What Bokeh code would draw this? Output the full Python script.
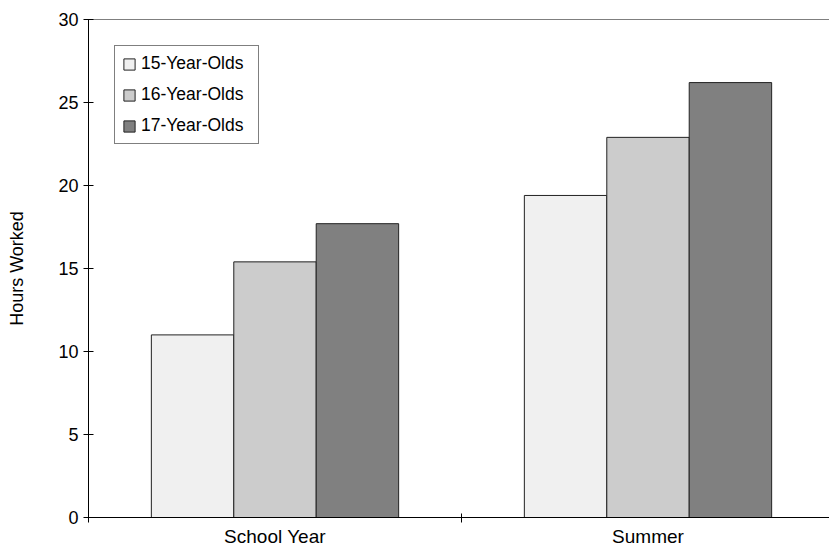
from bokeh.plotting import figure
from bokeh.models import FixedTicker, Span, Legend, LegendItem, ColumnDataSource
from bokeh.embed import file_html
from bokeh.resources import INLINE

categories = ["School Year", "Summer"]
series = ["15-Year-Olds", "16-Year-Olds", "17-Year-Olds"]
hours_15 = [11.0, 19.4]
hours_16 = [15.4, 22.9]
hours_17 = [17.7, 26.2]
colors = ["#f0f0f0", "#cccccc", "#808080"]
y_ticks = [0, 5, 10, 15, 20, 25, 30]
y_title = "Hours Worked"

FONT = "Liberation Sans"

p = figure(width=829, height=549, output_backend="svg", toolbar_location=None,
           x_range=(0, 741 / 373), y_range=(0, 30),
           min_border_left=88, min_border_right=0, min_border_top=19, min_border_bottom=30)
p.outline_line_color = None
p.grid.visible = False
p.background_fill_color = "white"
p.border_fill_color = "white"

bar_w = 0.221
offsets = [-bar_w, 0.0, bar_w]
centers = [i + 0.5 for i in range(len(categories))]
renderers = []
for vals, off, col in zip([hours_15, hours_16, hours_17], offsets, colors):
    src = ColumnDataSource(dict(x=[c + off for c in centers], top=vals))
    r = p.vbar(x="x", top="top", width=bar_w, bottom=0, source=src,
               fill_color=col, line_color="#222222", line_width=1)
    renderers.append(r)

p.add_layout(Span(location=30, dimension="width", line_color="black", line_width=1))

# x axis
xa = p.xaxis[0]
xa.ticker = FixedTicker(ticks=centers, minor_ticks=[0, 1, 2])
xa.major_label_overrides = {c: n for c, n in zip(centers, categories)}
xa.major_tick_in = 0
xa.major_tick_out = 0
xa.minor_tick_in = 4
xa.minor_tick_out = 5
xa.minor_tick_line_color = "black"
xa.axis_line_color = "black"
xa.major_label_standoff = 3
xa.major_label_text_font = FONT
xa.major_label_text_font_size = "19px"
xa.major_label_text_color = "black"

# y axis
ya = p.yaxis[0]
ya.ticker = FixedTicker(ticks=y_ticks, minor_ticks=[])
ya.major_tick_in = 5
ya.major_tick_out = 5
ya.major_tick_line_color = "black"
ya.axis_line_color = "black"
ya.major_label_standoff = 5
ya.major_label_text_font = FONT
ya.major_label_text_font_size = "18px"
ya.major_label_text_color = "black"
ya.axis_label = y_title
ya.axis_label_text_font = FONT
ya.axis_label_text_font_size = "18px"
ya.axis_label_text_font_style = "normal"
ya.axis_label_text_color = "black"
ya.axis_label_standoff = 28

legend = Legend(items=[LegendItem(label=s, renderers=[r]) for s, r in zip(series, renderers)],
                orientation="vertical")
legend.location = "top_left"
legend.margin = 26
legend.padding = 7
legend.spacing = 10
legend.glyph_width = 14
legend.glyph_height = 14
legend.label_height = 14
legend.label_width = 110
legend.label_standoff = 5
legend.label_text_font = FONT
legend.label_text_font_size = "17.5px"
legend.label_text_color = "black"
legend.border_line_color = "black"
legend.border_line_width = 1
legend.background_fill_color = "white"
legend.background_fill_alpha = 1
p.add_layout(legend)

open("out.html", "w").write(file_html(p, INLINE))
